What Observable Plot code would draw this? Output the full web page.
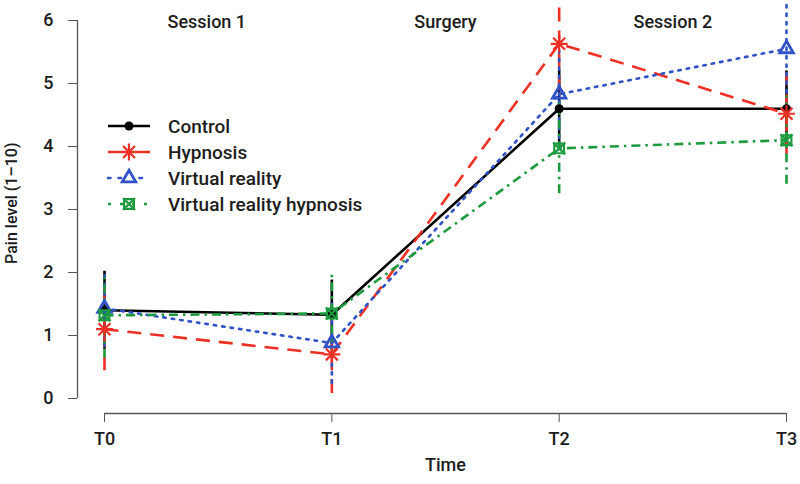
<!DOCTYPE html>
<html><head><meta charset="utf-8">
<script src="https://cdn.jsdelivr.net/npm/d3@7"></script>
<script src="https://cdn.jsdelivr.net/npm/@observablehq/plot@0.6"></script>
<style>
body{margin:0;background:#fff;font-family:Roboto,"Liberation Sans",Arial,sans-serif;}
#wrap{position:relative;width:800px;height:484px;}
#legend{position:absolute;left:106px;top:113px;}
.row{display:flex;align-items:center;height:26px;font-size:19px;font-weight:500;color:#1c1c1c;}
.row svg{width:46px;height:26px;margin-right:16px;overflow:visible;}
</style></head><body><div id="wrap"><div id="chart"></div><div id="legend"></div></div>
<script>
const times = ["T0", "T1", "T2", "T3"];
const groups = ["Control", "Hypnosis", "Virtual reality", "Virtual reality hypnosis"];
const control  = [1.40, 1.33, 4.60, 4.60];
const hypnosis = [1.10, 0.70, 5.63, 4.52];
const vr       = [1.43, 0.88, 4.83, 5.55];
const vrh      = [1.32, 1.35, 3.97, 4.10];
const controlErr  = [0.62, 0.55, 0.62, 0.60];
const hypnosisErr = [0.66, 0.62, 0.75, 0.65];
const vrErr       = [0.60, 0.64, 0.70, 0.70];
const vrhErr      = [0.68, 0.68, 0.72, 0.70];
const sessions = ["Session 1", "Surgery", "Session 2"];
const sessionPos = [0.45, 1.5, 2.5];
const yTicks = [0, 1, 2, 3, 4, 5, 6];

const values = [control, hypnosis, vr, vrh];
const errs = [controlErr, hypnosisErr, vrErr, vrhErr];
const colors = ["#000000", "#ee2f24", "#2f52c8", "#1b9a3e"];
const dashes = [null, "14,9", "2.5,6", "9,5,2.5,5"];
const caps = ["butt", "butt", "round", "butt"];
const txt = "#1c1c1c";
const fw = 500;

const marks = [
  Plot.ruleX([0], {y1: 0, y2: 6, dx: -27, stroke: "#555", strokeWidth: 1.3}),
  Plot.ruleY([0], {x1: 0, x2: 3, dy: 15, stroke: "#555", strokeWidth: 1.3}),
  Plot.axisY({ticks: yTicks, tickFormat: d3.format("d"), tickSize: 9, tickPadding: 15, label: null, stroke: "#555", fill: txt, fontSize: 18, fontWeight: fw}),
  Plot.axisX({ticks: [0, 1, 2, 3], tickFormat: i => times[i], tickSize: 9, tickPadding: 10, label: null, stroke: "#555", fill: txt, fontSize: 18, fontWeight: fw}),
  Plot.text(sessions, {x: (d, i) => sessionPos[i], y: 6, dy: 2, text: d => d, fill: txt, fontSize: 18, fontWeight: fw}),
  Plot.text(["Time"], {x: 1.5, frameAnchor: "bottom", dy: 57, text: d => d, fill: txt, fontSize: 18, fontWeight: fw}),
  Plot.text(["Pain level (1–10)"], {y: 3.1, frameAnchor: "left", textAnchor: "middle", dx: -66, rotate: -90, text: d => d, fill: txt, fontSize: 16, fontWeight: fw})
];

values.forEach((vals, i) => {
  const data = times.map((t, j) => ({x: j, y: vals[j], lo: vals[j] - errs[i][j], hi: vals[j] + errs[i][j]}));
  const common = {stroke: colors[i], strokeWidth: 2.6, strokeDasharray: dashes[i], strokeLinecap: caps[i]};
  marks.push(Plot.ruleX(data, {x: "x", y1: "lo", y2: "hi", ...common}));
  marks.push(Plot.line(data, {x: "x", y: "y", ...common}));
});
values.forEach((vals, i) => {
  const data = times.map((t, j) => ({x: j, y: vals[j]}));
  if (i === 0) marks.push(Plot.dot(data, {x: "x", y: "y", r: 4.5, fill: colors[0], symbol: "circle"}));
  if (i === 1) {
    marks.push(Plot.dot(data, {x: "x", y: "y", r: 5.5, stroke: colors[1], strokeWidth: 2.2, symbol: "plus"}));
    marks.push(Plot.dot(data, {x: "x", y: "y", r: 5.5, stroke: colors[1], strokeWidth: 2.2, symbol: "times"}));
  }
  if (i === 2) marks.push(Plot.dot(data, {x: "x", y: "y", r: 5, stroke: colors[2], strokeWidth: 2.8, fill: "none", symbol: "triangle"}));
  if (i === 3) {
    marks.push(Plot.dot(data, {x: "x", y: "y", r: 5.5, stroke: colors[3], strokeWidth: 2.2, fill: "none", symbol: "square"}));
    marks.push(Plot.dot(data, {x: "x", y: "y", r: 5.5, stroke: colors[3], strokeWidth: 2.2, symbol: "times"}));
  }
});

const chart = Plot.plot({
  width: 800, height: 484,
  marginLeft: 77, marginRight: 14, marginTop: 20, marginBottom: 71,
  x: {domain: [0, 3], insetLeft: 27},
  y: {domain: [0, 6], insetBottom: 15},
  style: {fontFamily: "Roboto, 'Liberation Sans', Arial, sans-serif", fontSize: "18px", background: "white", overflow: "visible"},
  marks
});
document.getElementById("chart").appendChild(chart);

// legend
const sym = [
  [{t: d3.symbolCircle, s: Math.PI * 4.5 * 4.5, fill: true}],
  [{t: d3.symbolPlus, s: Math.PI * 30}, {t: d3.symbolTimes, s: Math.PI * 30}],
  [{t: d3.symbolTriangle, s: Math.PI * 25}],
  [{t: d3.symbolSquare, s: Math.PI * 30}, {t: d3.symbolTimes, s: Math.PI * 30}]
];
const legend = d3.select("#legend");
groups.forEach((g, i) => {
  const row = legend.append("div").attr("class", "row");
  const svg = row.append("svg");
  svg.append("line").attr("x1", 2).attr("x2", 44).attr("y1", 13).attr("y2", 13)
    .attr("stroke", colors[i]).attr("stroke-width", 2.6)
    .attr("stroke-dasharray", i === 2 ? "2.5,8" : i === 3 ? "3,9" : null)
    .attr("stroke-linecap", caps[i]);
  sym[i].forEach(s => {
    svg.append("path").attr("transform", "translate(23,13)")
      .attr("d", d3.symbol(s.t, s.s)())
      .attr("fill", s.fill ? colors[i] : (i === 2 ? "white" : "none"))
      .attr("stroke", s.fill ? "none" : colors[i])
      .attr("stroke-width", i === 2 ? 2.8 : 2.2);
  });
  row.append("span").text(g);
});
</script>
</body></html>
